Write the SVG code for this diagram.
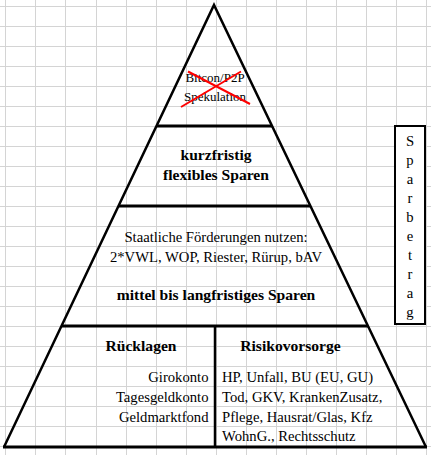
<svg xmlns="http://www.w3.org/2000/svg" width="431" height="455" viewBox="0 0 431 455">
<style>
.grid{stroke:#d4d4d4;stroke-width:1;fill:none}
.ln{stroke:#000;fill:none;stroke-linecap:butt}
.r{font-family:"Liberation Serif","Times New Roman",serif;font-size:14.67px;fill:#000}
.b{font-family:"Liberation Serif","Times New Roman",serif;font-size:15.6px;font-weight:bold;fill:#000}
.sm{font-family:"Liberation Serif","Times New Roman",serif;font-size:13px;fill:#000}
.x{stroke:#ff0000;stroke-width:2}
</style>
<rect width="431" height="455" fill="#fff"/>
<g id="grid">
<path class="grid" d="M5.5,0V455M35.5,0V455M65.5,0V455M96.5,0V455M126.5,0V455M156.5,0V455M186.5,0V455M216.5,0V455M246.5,0V455M276.5,0V455M306.5,0V455M336.5,0V455M366.5,0V455M396.5,0V455M426.5,0V455
M0,6.5H431M0,26.5H431M0,46.5H431M0,66.5H431M0,86.5H431M0,106.5H431M0,126.5H431M0,146.5H431M0,166.5H431M0,186.5H431M0,206.5H431M0,226.5H431M0,246.5H431M0,266.5H431M0,286.5H431M0,306.5H431M0,326.5H431M0,346.5H431M0,366.5H431M0,386.5H431M0,406.5H431M0,426.5H431M0,446.5H431"/>
</g>
<g id="pyramid">
<path class="ln" stroke-width="2.5" d="M4,447 L214,5 L426,447"/>
<line class="ln" stroke-width="3" x1="3" y1="447" x2="427" y2="447"/>
<line class="ln" stroke-width="3" x1="156" y1="126" x2="272" y2="126"/>
<line class="ln" stroke-width="3" x1="118.5" y1="206" x2="310.5" y2="206"/>
<line class="ln" stroke-width="3" x1="61.5" y1="326" x2="368" y2="326"/>
<line class="ln" stroke-width="2.5" x1="215" y1="326" x2="215" y2="447"/>
</g>
<g id="spekulation">
<text class="sm" x="215" y="82" text-anchor="middle">Bitcon/P2P</text>
<text class="sm" x="215" y="101" text-anchor="middle">Spekulation</text>
<line class="x" x1="188" y1="71.5" x2="250" y2="104"/>
<line class="x" x1="241" y1="71.5" x2="181" y2="107"/>
</g>
<g id="kurzfristig">
<text class="b" x="216" y="160" text-anchor="middle">kurzfristig</text>
<text class="b" x="216" y="180" text-anchor="middle">flexibles Sparen</text>
</g>
<g id="mittelfristig">
<text class="r" x="216" y="241.5" text-anchor="middle">Staatliche Förderungen nutzen:</text>
<text class="r" x="216" y="261.5" text-anchor="middle">2*VWL, WOP, Riester, Rürup, bAV</text>
<text class="b" x="216" y="300" text-anchor="middle">mittel bis langfristiges Sparen</text>
</g>
<g id="ruecklagen">
<text class="b" x="141" y="351" text-anchor="middle">Rücklagen</text>
<text class="r" x="208.5" y="381.5" text-anchor="end">Girokonto</text>
<text class="r" x="208.5" y="401.5" text-anchor="end">Tagesgeldkonto</text>
<text class="r" x="208.5" y="421.5" text-anchor="end">Geldmarktfond</text>
</g>
<g id="risikovorsorge">
<text class="b" x="290.5" y="351" text-anchor="middle">Risikovorsorge</text>
<text class="r" x="222" y="381.5">HP, Unfall, BU (EU, GU)</text>
<text class="r" x="222" y="401.5">Tod, GKV, KrankenZusatz,</text>
<text class="r" x="222" y="421.5">Pflege, Hausrat/Glas, Kfz</text>
<text class="r" x="222" y="441">WohnG., Rechtsschutz</text>
</g>
<g id="sparbetrag">
<rect x="395" y="126" width="30" height="198" fill="#fff" stroke="#000" stroke-width="2"/>
<text class="r" text-anchor="middle">
<tspan x="410" y="146">S</tspan><tspan x="410" y="165">p</tspan><tspan x="410" y="184">a</tspan><tspan x="410" y="203">r</tspan><tspan x="410" y="222">b</tspan><tspan x="410" y="241">e</tspan><tspan x="410" y="260">t</tspan><tspan x="410" y="279">r</tspan><tspan x="410" y="298">a</tspan><tspan x="410" y="317">g</tspan>
</text>
</g>
</svg>
